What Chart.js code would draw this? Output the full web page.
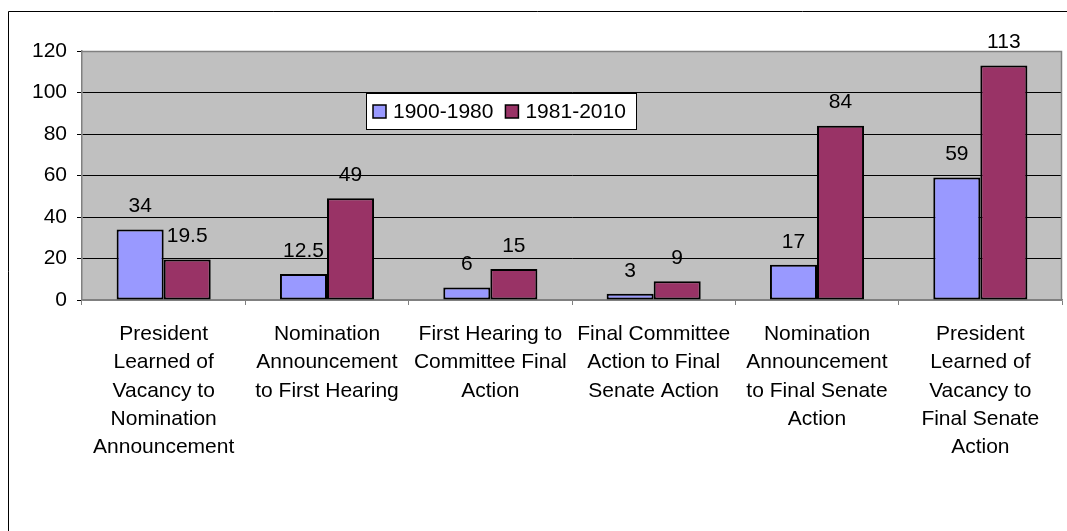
<!DOCTYPE html>
<html>
<head>
<meta charset="utf-8">
<script src="https://cdn.jsdelivr.net/npm/chart.js@4.4.1/dist/chart.umd.min.js"></script>
<style>
  html, body { margin: 0; padding: 0; background: #fff; }
  #wrap { width: 1067px; height: 531px; }
</style>
</head>
<body>
<div id="wrap"><canvas id="c" width="1067" height="531"></canvas></div>
<script>
const categories = [
  ["President", "Learned of", "Vacancy to", "Nomination", "Announcement"],
  ["Nomination", "Announcement", "to First Hearing"],
  ["First Hearing to", "Committee Final", "Action"],
  ["Final Committee", "Action to Final", "Senate Action"],
  ["Nomination", "Announcement", "to Final Senate", "Action"],
  ["President", "Learned of", "Vacancy to", "Final Senate", "Action"]
];
const seriesNames = ["1900-1980", "1981-2010"];
const series1900 = [34, 12.5, 6, 3, 17, 59];
const series1981 = [19.5, 49, 15, 9, 84, 113];
const yTicks = [0, 20, 40, 60, 80, 100, 120];

const FONT = "'Liberation Sans', Arial, sans-serif";
const colors = ["#9999FF", "#993366"];

const frameAndBg = {
  id: 'frameAndBg',
  beforeDraw(chart) {
    const { ctx, chartArea: a } = chart;
    ctx.save();
    ctx.fillStyle = '#C0C0C0';
    ctx.fillRect(a.left, a.top, a.right - a.left, a.bottom - a.top);
    ctx.strokeStyle = '#000';
    ctx.lineWidth = 1;
    ctx.beginPath();
    ctx.moveTo(8.5, 531);
    ctx.lineTo(8.5, 11.5);
    ctx.lineTo(1067, 11.5);
    ctx.stroke();
    ctx.restore();
  },
  afterDraw(chart) {
    const { ctx, chartArea: a } = chart;
    ctx.save();
    ctx.strokeStyle = '#808080';
    ctx.lineWidth = 1.5;
    ctx.beginPath();
    ctx.moveTo(a.left, a.top + 0.5);
    ctx.lineTo(a.right - 0.5, a.top + 0.5);
    ctx.lineTo(a.right - 0.5, a.bottom);
    ctx.stroke();
    ctx.restore();
  }
};

const valueLabels = {
  id: 'valueLabels',
  afterDatasetsDraw(chart) {
    const { ctx } = chart;
    ctx.save();
    ctx.font = '21px ' + FONT;
    ctx.fillStyle = '#000';
    ctx.textAlign = 'center';
    ctx.textBaseline = 'middle';
    chart.data.datasets.forEach((ds, i) => {
      const meta = chart.getDatasetMeta(i);
      meta.data.forEach((bar, j) => {
        ctx.fillText(String(ds.data[j]), bar.x, bar.y - 23);
      });
    });
    ctx.restore();
  }
};

const boxLegend = {
  id: 'boxLegend',
  afterDraw(chart) {
    const { ctx } = chart;
    ctx.save();
    const x0 = 366, y0 = 93, w = 270, h = 36;
    ctx.fillStyle = '#fff';
    ctx.fillRect(x0, y0, w, h);
    ctx.strokeStyle = '#000';
    ctx.lineWidth = 1;
    ctx.strokeRect(x0 + 0.5, y0 + 0.5, w, h);
    ctx.font = '21px ' + FONT;
    ctx.textBaseline = 'middle';
    ctx.textAlign = 'left';
    let x = 373;
    const cy = 111.5;
    chart.data.datasets.forEach((ds) => {
      ctx.fillStyle = ds.backgroundColor;
      ctx.fillRect(x, cy - 6.5, 13, 13);
      ctx.lineWidth = 1.5;
      ctx.strokeStyle = '#000';
      ctx.strokeRect(x, cy - 6.5, 13, 13);
      ctx.fillStyle = '#000';
      ctx.fillText(ds.label, x + 20, cy + 1);
      x += 20 + ctx.measureText(ds.label).width + 12;
    });
    ctx.restore();
  }
};

new Chart(document.getElementById('c'), {
  type: 'bar',
  data: {
    labels: categories,
    datasets: [
      { label: seriesNames[0], data: series1900, backgroundColor: colors[0], borderColor: '#000', borderWidth: 2 },
      { label: seriesNames[1], data: series1981, backgroundColor: colors[1], borderColor: '#000', borderWidth: 2 }
    ]
  },
  options: {
    responsive: false,
    animation: false,
    devicePixelRatio: 1,
    layout: { padding: { left: 0, right: 5, top: 51, bottom: 0 } },
    datasets: { bar: { categoryPercentage: 0.576, barPercentage: 1.0, borderSkipped: false } },
    plugins: {
      legend: { display: false },
      tooltip: { enabled: false },
      title: { display: false }
    },
    scales: {
      x: {
        grid: { display: true, drawOnChartArea: false, drawTicks: true, tickLength: 5, color: '#808080', offset: true },
        border: { display: true, color: '#808080', width: 1.5 },
        ticks: {
          autoSkip: false, maxRotation: 0, minRotation: 0,
          color: '#000', padding: 15,
          font: { family: FONT, size: 21, lineHeight: 1.35 }
        },
        afterFit(scale) { scale.height = 231; }
      },
      y: {
        min: yTicks[0], max: yTicks[yTicks.length - 1],
        afterBuildTicks(scale) { scale.ticks = yTicks.map(v => ({ value: v })); },
        grid: {
          color: (c) => (c.tick && (c.tick.value === 0 || c.tick.value === 120)) ? '#808080' : '#000',
          tickColor: '#000',
          tickLength: 5,
          lineWidth: 1
        },
        border: { display: true, color: '#808080', width: 1.5 },
        ticks: {
          color: '#000', padding: 10,
          font: { family: FONT, size: 21 }
        },
        afterFit(scale) { scale.width = 82; }
      }
    }
  },
  plugins: [frameAndBg, valueLabels, boxLegend]
});
</script>
</body>
</html>
